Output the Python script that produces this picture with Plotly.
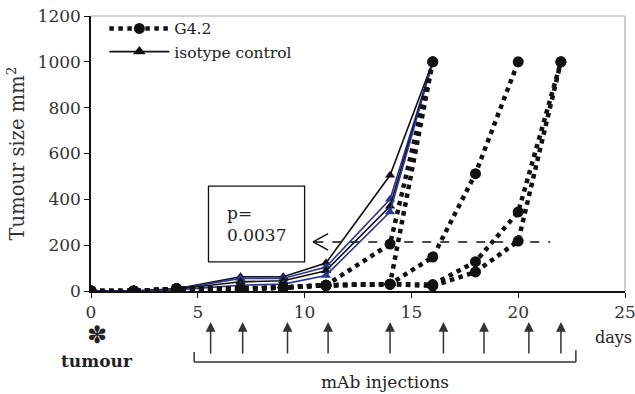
import plotly.graph_objects as go

# ---- data ----
days_ctrl = [0, 2, 4, 7, 9, 11, 14, 16]
ctrl_1 = [0, 0, 10, 62, 62, 122, 505, 1000]
ctrl_2 = [0, 0, 8, 55, 55, 105, 400, 1000]
ctrl_3 = [0, 0, 8, 40, 45, 88, 370, 1000]
ctrl_4 = [0, 0, 5, 25, 30, 68, 345, 1000]
ctrl_colors = ["#111111", "#2a3596", "#111111", "#2a3596"]

days_g_a = [0, 2, 4, 7, 9, 11, 14, 16]
g42_1 = [0, 0, 10, 10, 15, 25, 205, 1000]
g42_2 = [0, 0, 10, 10, 15, 25, 30, 1000]
days_g_b = [0, 2, 4, 7, 9, 11, 14, 16, 18, 20]
g42_3 = [0, 0, 10, 10, 15, 25, 30, 148, 512, 1000]
days_g_c = [0, 2, 4, 7, 9, 11, 14, 16, 18, 20, 22]
g42_4 = [0, 0, 10, 10, 15, 25, 30, 28, 128, 345, 1000]
g42_5 = [0, 0, 10, 10, 15, 25, 30, 22, 83, 218, 1000]

injection_days = [5.6, 7.1, 9.2, 11.1, 14.0, 16.5, 18.4, 20.5, 22.0]
x_ticks = [0, 5, 10, 15, 20, 25]
y_ticks = [0, 200, 400, 600, 800, 1000, 1200]

FONT = "DejaVu Serif"
fig = go.Figure()

ctrl_series = [ctrl_1, ctrl_2, ctrl_3, ctrl_4]
for i, (ys, c) in enumerate(zip(ctrl_series, ctrl_colors)):
    fig.add_trace(go.Scatter(
        x=days_ctrl, y=ys, mode="lines+markers",
        line=dict(color=c, width=1.6),
        marker=dict(symbol="triangle-up", size=9, color=c),
        name="isotype control", legendgroup="ctrl",
        showlegend=False))

g_series = [(days_g_a, g42_1), (days_g_a, g42_2), (days_g_b, g42_3),
            (days_g_c, g42_4), (days_g_c, g42_5)]
for i, (xs, ys) in enumerate(g_series):
    fig.add_trace(go.Scatter(
        x=xs, y=ys, mode="lines+markers",
        line=dict(color="#111111", width=4.5, dash="dot"),
        marker=dict(symbol="circle", size=11, color="#111111"),
        name="G4.2", legendgroup="g42",
        showlegend=False))

# legend entries
fig.add_trace(go.Scatter(x=[None], y=[None], mode="lines+markers",
                         line=dict(color="#111111", width=4.5, dash="dot"),
                         marker=dict(symbol="circle", size=11, color="#111111"),
                         name="G4.2", legendrank=1))
fig.add_trace(go.Scatter(x=[None], y=[None], mode="lines+markers",
                         line=dict(color="#111111", width=1.6),
                         marker=dict(symbol="triangle-up", size=11, color="#111111"),
                         name="isotype control", legendrank=2))

shapes = []
annotations = []

# frame (top/right in gray)
shapes.append(dict(type="line", xref="paper", yref="paper", x0=0, x1=1, y0=1, y1=1,
                   line=dict(color="#aaaaaa", width=1.2)))
shapes.append(dict(type="line", xref="paper", yref="paper", x0=1, x1=1, y0=0, y1=1,
                   line=dict(color="#aaaaaa", width=1.2)))

# p-value box
shapes.append(dict(type="rect", xref="x", yref="y", x0=5.5, x1=10.0, y0=127, y1=458,
                   line=dict(color="#111111", width=1.3), fillcolor="white"))
annotations.append(dict(xref="x", yref="y", x=6.25, y=292, text="p=<br>0.0037",
                        showarrow=False, xanchor="left", yanchor="middle", align="left",
                        font=dict(family=FONT, size=17, color="#222222")))

# dashed arrow line
shapes.append(dict(type="line", xref="x", yref="y", x0=10.45, x1=21.5, y0=214, y1=214,
                   line=dict(color="#111111", width=1.5, dash="dash")))
shapes.append(dict(type="line", xref="x", yref="y", x0=10.4, x1=11.1, y0=214, y1=250,
                   line=dict(color="#111111", width=1.5)))
shapes.append(dict(type="line", xref="x", yref="y", x0=10.4, x1=11.1, y0=214, y1=178,
                   line=dict(color="#111111", width=1.5)))

# injection arrows
for d in injection_days:
    annotations.append(dict(xref="x", yref="paper", x=d, y=-0.113, ax=0, ay=33,
                            axref="pixel", ayref="pixel", text="", showarrow=True,
                            arrowhead=2, arrowsize=1.3, arrowwidth=1.5,
                            arrowcolor="#333333"))
# bracket
shapes.append(dict(type="line", xref="x", yref="paper", x0=4.83, x1=22.7, y0=-0.258, y1=-0.258,
                   line=dict(color="#333333", width=1.5)))
shapes.append(dict(type="line", xref="x", yref="paper", x0=4.83, x1=4.83, y0=-0.258, y1=-0.222,
                   line=dict(color="#333333", width=1.5)))
shapes.append(dict(type="line", xref="x", yref="paper", x0=22.7, x1=22.7, y0=-0.258, y1=-0.215,
                   line=dict(color="#333333", width=1.5)))

annotations.append(dict(xref="x", yref="paper", x=13.75, y=-0.33, text="mAb injections",
                        showarrow=False, xanchor="center", yanchor="middle",
                        font=dict(family=FONT, size=17, color="#222222")))
annotations.append(dict(xref="paper", yref="paper", x=1.0, xshift=9, y=-0.17, text="days",
                        showarrow=False, xanchor="right", yanchor="middle",
                        font=dict(family=FONT, size=16, color="#222222")))
annotations.append(dict(xref="x", yref="paper", x=0.3, y=-0.16, text="✽",
                        showarrow=False, xanchor="center", yanchor="middle",
                        font=dict(family=FONT, size=24, color="#222222")))
annotations.append(dict(xref="x", yref="paper", x=0.3, y=-0.255, text="<b>tumour</b>",
                        showarrow=False, xanchor="center", yanchor="middle",
                        font=dict(family=FONT, size=17, color="#222222")))

fig.update_layout(
    width=635, height=394,
    margin=dict(l=91, r=10, t=16, b=103, autoexpand=False),
    paper_bgcolor="white", plot_bgcolor="white",
    font=dict(family=FONT, size=17, color="#222222"),
    showlegend=True,
    legend=dict(x=0.025, y=1.015, xanchor="left", yanchor="top",
                bgcolor="rgba(0,0,0,0)", font=dict(family=FONT, size=15.5),
                itemwidth=60, tracegroupgap=0),
    shapes=shapes, annotations=annotations,
)
fig.update_xaxes(range=[0, 25], tickvals=x_ticks, showgrid=False, zeroline=False,
                 showline=True, linecolor="#111111", linewidth=1.5,
                 ticks="outside", ticklen=5, tickcolor="#111111",
                 ticklabeloverflow="allow", automargin=False,
                 tickfont=dict(family=FONT, size=17, color="#333333"))
fig.update_yaxes(range=[0, 1200], tickvals=y_ticks, showgrid=False, zeroline=False,
                 showline=True, linecolor="#111111", linewidth=1.5,
                 ticks="outside", ticklen=5, tickcolor="#111111", automargin=False,
                 tickfont=dict(family=FONT, size=17, color="#333333"),
                 title=dict(text="Tumour size mm<sup>2</sup>",
                            font=dict(family=FONT, size=19.5, color="#333333"),
                            standoff=8))

fig.write_html("out.html")
